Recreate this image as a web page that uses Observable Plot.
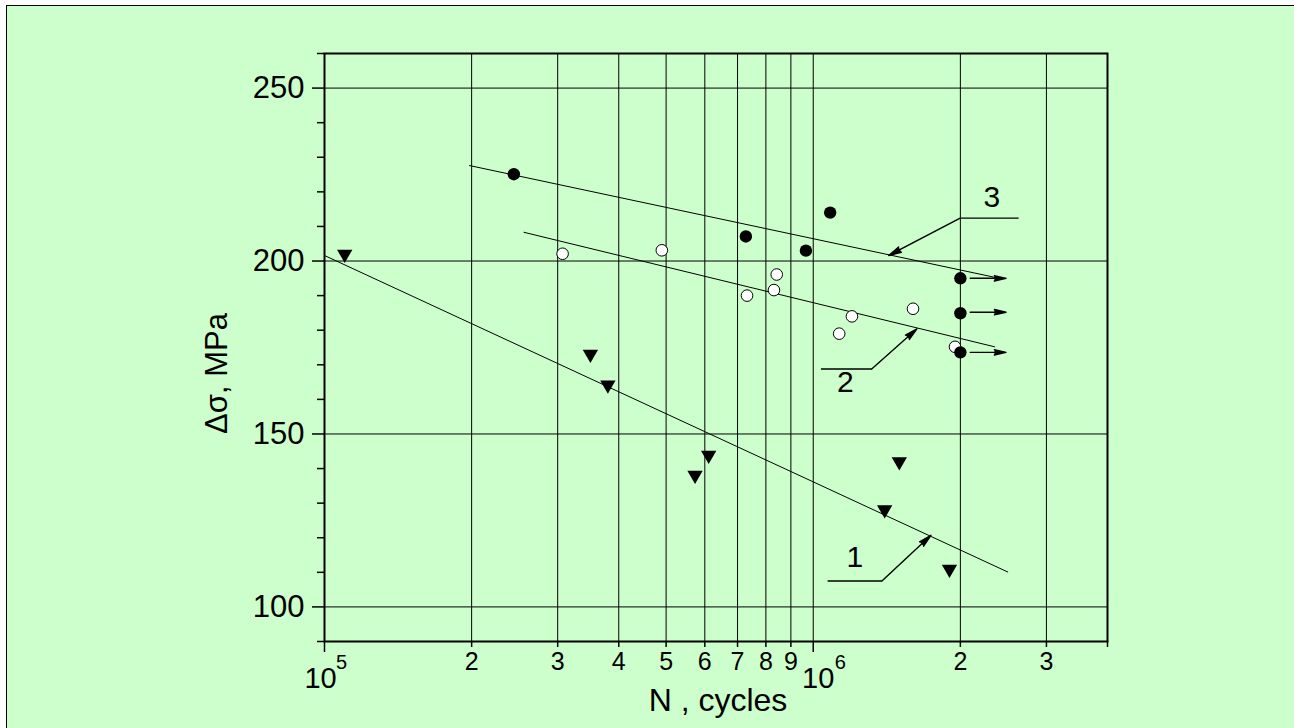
<!DOCTYPE html>
<html><head><meta charset="utf-8">
<script src="https://cdn.jsdelivr.net/npm/d3@7"></script>
<script src="https://cdn.jsdelivr.net/npm/@observablehq/plot@0.6"></script>
<style>
html,body{margin:0;padding:0;background:#fff;overflow:hidden;width:1294px;height:728px;}
#bg{position:absolute;left:6px;top:5px;width:1400px;height:800px;border:1.5px solid #000;background:#CCFFCC;}
#chart{position:absolute;left:0;top:0;}
</style></head><body>
<div id="bg"></div><div id="chart"></div>
<script>
// ---- data (N in cycles, stress range in MPa) ----
const triN  = [1.10e5, 3.50e5, 3.80e5, 5.73e5, 6.11e5, 1.40e6, 1.50e6, 1.90e6];
const triS  = [202.0, 173.1, 164.2, 138.1, 143.9, 128.1, 142.0, 110.9];
const openN = [3.07e5, 4.90e5, 7.32e5, 8.31e5, 8.42e5, 1.13e6, 1.20e6, 1.60e6, 1.95e6];
const openS = [202.1, 203.1, 190.0, 191.6, 196.1, 179.0, 184.0, 186.2, 175.2];
const fillN = [2.44e5, 7.28e5, 9.66e5, 1.083e6, 2.0e6, 2.0e6, 2.0e6];
const fillS = [225.1, 207.1, 203.0, 214.0, 195.0, 184.9, 173.6];
// fitted lines
const fit1N = [1.0e5, 2.5e6],   fit1S = [201.6, 110.1];
const fit2N = [2.56e5, 2.35e6], fit2S = [208.3, 175.2];
const fit3N = [1.98e5, 2.35e6], fit3S = [227.6, 195.3];
// run-out arrows
const runN1 = [2.095e6, 2.095e6, 2.095e6];
const runN2 = [2.48e6, 2.48e6, 2.48e6];
const runS  = [195.0, 185.2, 173.6];
// curve labels with leaders
const labText = ["1", "2", "3"];
const labN    = [1.217e6, 1.163e6, 2.321e6];
const labS    = [114.2, 164.8, 218.4];
const leadN1  = [1.070e6, 1.037e6, 2.632e6];
const leadN2  = [1.382e6, 1.317e6, 1.998e6];
const leadS   = [107.5, 168.8, 212.4];
const tipN    = [1.741e6, 1.630e6, 1.427e6];
const tipS    = [120.7, 180.4, 201.6];
// axes
const xMajor = [1e5, 1e6];
const xMajorBase = ["10", "10"];
const xMajorExp = ["5", "6"];
const xMinor = [2e5, 3e5, 4e5, 5e5, 6e5, 7e5, 8e5, 9e5, 2e6, 3e6, 4e6];
const xMinorLabels = ["2", "3", "4", "5", "6", "7", "8", "9", "2", "3", ""];
const xGrid = [2e5, 3e5, 4e5, 5e5, 6e5, 7e5, 8e5, 9e5, 1e6, 2e6, 3e6];
const yMajor = [100, 150, 200, 250];
const yMinor = [90, 110, 120, 130, 140, 160, 170, 180, 190, 210, 220, 230, 240, 260];
const xTitle = "N , cycles";
const yTitle = "\u0394\u03c3, MPa";

const idx = a => a.map((_, i) => i);
const F = "Liberation Sans, Arial, sans-serif";

const chart = Plot.plot({
  width: 1294, height: 728,
  marginLeft: 324, marginRight: 187, marginTop: 53, marginBottom: 87,
  style: {fontFamily: F, background: "transparent", color: "black", overflow: "visible"},
  x: {type: "log", domain: [1e5, 4e6]},
  y: {domain: [90, 260]},
  marks: [
    Plot.ruleX(xGrid, {stroke: "black", strokeWidth: 1}),
    Plot.ruleY(yMajor, {stroke: "black", strokeWidth: 1}),
    Plot.line(idx(fit1N), {x: i => fit1N[i], y: i => fit1S[i], stroke: "black", strokeWidth: 1}),
    Plot.line(idx(fit2N), {x: i => fit2N[i], y: i => fit2S[i], stroke: "black", strokeWidth: 1}),
    Plot.line(idx(fit3N), {x: i => fit3N[i], y: i => fit3S[i], stroke: "black", strokeWidth: 1}),
    Plot.arrow(idx(runN1), {x1: i => runN1[i], x2: i => runN2[i], y1: i => runS[i], y2: i => runS[i],
      stroke: "black", fill: "black", strokeWidth: 1.4, headAngle: 26, headLength: 14}),
    Plot.link(idx(leadN1), {x1: i => leadN1[i], x2: i => leadN2[i], y1: i => leadS[i], y2: i => leadS[i],
      stroke: "black", strokeWidth: 1.4}),
    Plot.arrow(idx(leadN2), {x1: i => leadN2[i], x2: i => tipN[i], y1: i => leadS[i], y2: i => tipS[i],
      stroke: "black", fill: "black", strokeWidth: 1.4, headAngle: 26, headLength: 14}),
    Plot.text(idx(labText), {x: i => labN[i], y: i => labS[i], text: i => labText[i], fontSize: 30, fill: "black"}),
    Plot.dot(idx(triN), {x: i => triN[i], y: i => triS[i], symbol: "triangle", rotate: 180, r: 5.7, fill: "black", stroke: "none"}),
    Plot.dot(idx(openN), {x: i => openN[i], y: i => openS[i], r: 5.8, fill: "white", stroke: "black", strokeWidth: 1}),
    Plot.dot(idx(fillN), {x: i => fillN[i], y: i => fillS[i], r: 6.2, fill: "black", stroke: "none"}),
    Plot.frame({stroke: "black", strokeWidth: 2}),
    Plot.axisY(yMajor, {tickSize: 12, tickPadding: 8, fontSize: 31, strokeWidth: 1.5, label: null}),
    Plot.axisY(yMinor, {tickSize: 7, tickFormat: () => "", strokeWidth: 1.5, label: null}),
    Plot.axisX(xMajor, {tickSize: 11, tickFormat: () => "", strokeWidth: 1.5, label: null}),
    Plot.axisX(xMinor, {tickSize: 6, tickFormat: () => "", strokeWidth: 1.5, label: null}),
    Plot.text(idx(xMinor), {x: i => xMinor[i], text: i => xMinorLabels[i], frameAnchor: "bottom",
      textAnchor: "middle", lineAnchor: "top", dy: 11, fontSize: 25, fill: "black"}),
    Plot.text([0], {x: () => xMajor[0], text: () => xMajorBase[0], frameAnchor: "bottom", textAnchor: "middle",
      lineAnchor: "top", dy: 26, dx: -4, fontSize: 29, fill: "black"}),
    Plot.text([0], {x: () => xMajor[0], text: () => xMajorExp[0], frameAnchor: "bottom", textAnchor: "middle",
      lineAnchor: "top", dy: 13, dx: 17, fontSize: 20, fill: "black"}),
    Plot.text([1], {x: () => xMajor[1], text: () => xMajorBase[1], frameAnchor: "bottom", textAnchor: "middle",
      lineAnchor: "top", dy: 26, dx: 5, fontSize: 29, fill: "black"}),
    Plot.text([1], {x: () => xMajor[1], text: () => xMajorExp[1], frameAnchor: "bottom", textAnchor: "middle",
      lineAnchor: "top", dy: 13, dx: 27, fontSize: 20, fill: "black"}),
    Plot.text([xTitle], {frameAnchor: "bottom", textAnchor: "middle", lineAnchor: "middle", dy: 59, dx: 2, fontSize: 32, fill: "black"}),
    Plot.text([yTitle], {frameAnchor: "left", textAnchor: "middle", rotate: -90, lineAnchor: "middle", dx: -107, dy: 26, fontSize: 31, fill: "black"})
  ]
});
document.getElementById("chart").appendChild(chart);
</script>
</body></html>
